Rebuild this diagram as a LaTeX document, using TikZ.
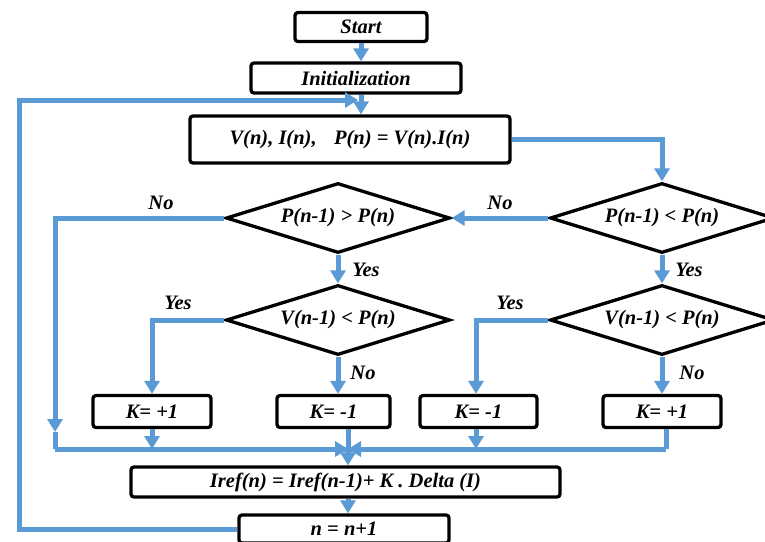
\documentclass[tikz,border=0pt]{standalone}
\usepackage{fontspec}
\setmainfont{Liberation Serif}
\usetikzlibrary{shapes.geometric,arrows.meta}
\definecolor{flowblue}{RGB}{91,155,213}

\begin{document}
\begin{tikzpicture}[x=1pt,y=-1pt]
\tikzstyle{every node}=[font=\fontsize{20.5}{22}\selectfont\bfseries\itshape,text=black]
\tikzstyle{box}=[draw=black,line width=3.3pt,rounded corners=3pt,fill=white,inner sep=0pt]
\tikzstyle{test}=[diamond,draw=black,line width=3.3pt,fill=white,inner sep=0pt,aspect=3.2,minimum width=224pt,minimum height=70pt]
\tikzstyle{line}=[flowblue,line width=5pt]
\tikzstyle{arr}=[line,-{Triangle[width=15pt,length=13pt]}]
\tikzstyle{lbl}=[inner sep=0pt]

\clip (0,0) rectangle (765,541);

% process boxes
\node[box,minimum width=132pt,minimum height=29pt] (start) at (361,27) {Start};
\node[box,minimum width=210pt,minimum height=30pt] (init) at (356,78) {Initialization};
\node[box,minimum width=320pt,minimum height=47pt] (meas) at (350,139.5) {V(n), I(n),\hspace{0.6em} P(n) = V(n).I(n)};

% decisions
\node[test] (cmpR) at (662,218) {P(n-1) < P(n)};
\node[test] (cmpL) at (338,218) {P(n-1) > P(n)};
\node[test] (voltL) at (338,320) {V(n-1) < P(n)};
\node[test] (voltR) at (662,320) {V(n-1) < P(n)};

% step sign
\node[box,minimum width=118pt,minimum height=32pt] (kA) at (152,411.5) {K= +1};
\node[box,minimum width=113pt,minimum height=32pt] (kB) at (333.5,411.5) {K= -1};
\node[box,minimum width=117pt,minimum height=32pt] (kC) at (478.5,411.5) {K= -1};
\node[box,minimum width=118pt,minimum height=32pt] (kD) at (662,411.5) {K= +1};

\node[box,minimum width=429pt,minimum height=30pt] (iref) at (345.5,482) {Iref(n) = Iref(n-1)+ K . Delta (I)};
\node[box,minimum width=210pt,minimum height=28pt] (next) at (344,529) {n = n+1};

\coordinate (leftTip) at (55,432);
\coordinate (mergeL) at (55,449);
\coordinate (mergeM) at (348,449);
\coordinate (mergeR) at (666,449);
\coordinate (loopTip) at (358,100);

% connectors
\draw[arr] (start.south) -- (start.south |- init.north);
\draw[arr] (start.south |- init.south) -- (start.south |- meas.north);
\draw[arr] (next.west) -| (19,100) -- (loopTip);
\draw[arr] (meas.east) -| (cmpR.north);
\draw[arr] (cmpR.west) -- node[lbl,above=6pt] {No} (cmpL.east);
\draw[arr] (cmpL.west) -| (leftTip);
\draw[line] (leftTip) -- (mergeL);
\draw[arr] (cmpL.south) -- (voltL.north);
\draw[arr] (cmpR.south) -- (voltR.north);
\draw[arr] (voltL.west) -| (kA.north);
\draw[arr] (voltL.south) -- (voltL.south |- kB.north);
\draw[arr] (voltR.west) -| ([xshift=-2.5pt]kC.north);
\draw[arr] (voltR.south) -- (kD.north);

\draw[line] (mergeL) -- (mergeR);
\draw[arr] (kA.south) -- (kA.south |- mergeM);
\draw[arr] ([xshift=-2.5pt]kC.south) -- ([xshift=-2.5pt]kC.south |- mergeM);
\draw[line] (kB.south -| mergeM) -- (mergeM);
\draw[line] (kD.south -| mergeR) -- (mergeR);
\draw[arr] (mergeL) -- (mergeM);
\draw[arr] (mergeR) -- (mergeM);
\draw[arr] (mergeM) -- (mergeM |- iref.north);
\draw[arr] (iref.south -| mergeM) -- (mergeM |- next.north);

% branch labels
\node[lbl] (noA) at (161,203) {No};
\node[lbl] (yesA) at (366,270) {Yes};
\node[lbl] (yesB) at (689,270) {Yes};
\node[lbl] (yesC) at (178,303) {Yes};
\node[lbl] (yesD) at (510,303) {Yes};
\node[lbl] (noB) at (363,373) {No};
\node[lbl] (noC) at (692,373) {No};
\end{tikzpicture}
\end{document}
